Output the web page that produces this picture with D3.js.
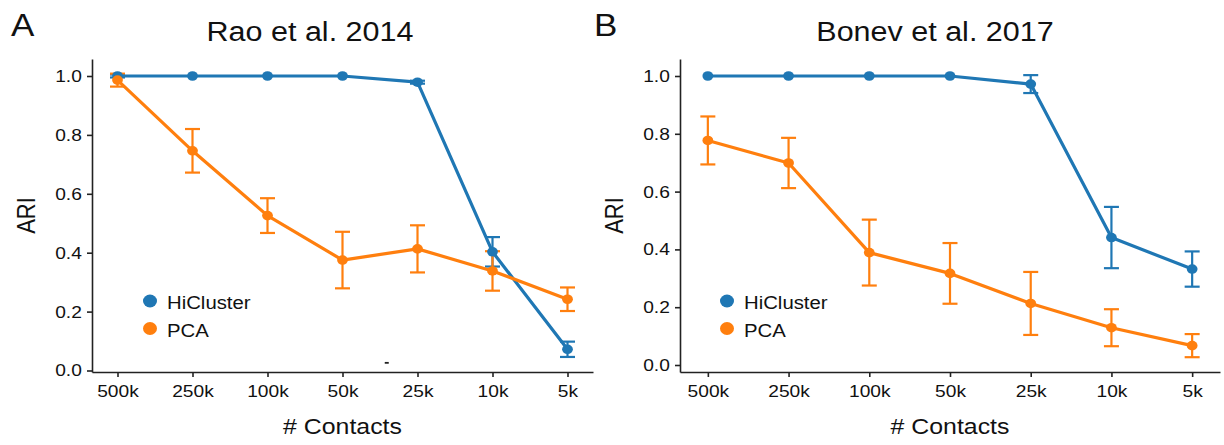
<!DOCTYPE html>
<html lang="en">
<head>
<meta charset="UTF-8">
<title>ARI vs number of contacts</title>
<style>
  body { margin: 0; background: #fff; }
  svg text { font-family: "Liberation Sans", Arial, Helvetica, sans-serif; fill: #111; }
  .axis path, .axis line { stroke: #222; stroke-width: 1.6; }
</style>
</head>
<body>
<svg id="chart" width="1224" height="445"></svg>

<script src="https://d3js.org/d3.v7.min.js"></script>
<script>
    // categories and tick labels
    const contacts = ['500k', '250k', '100k', '50k', '25k', '10k', '5k']
    const yTicks = [0, 0.2, 0.4, 0.6, 0.8, 1.0]
    const seriesNames = ['HiCluster', 'PCA']

    // Rao et al. 2014 (mean ARI and half-width of error bar)
    const raoHiCluster = [1.0, 1.0, 1.0, 1.0, 0.979, 0.403, 0.072]
    const raoHiClusterErr = [0.005, 0, 0, 0, 0.005, 0.05, 0.026]
    const raoPCA = [0.986, 0.746, 0.526, 0.375, 0.413, 0.338, 0.242]
    const raoPCAErr = [0.022, 0.074, 0.059, 0.096, 0.08, 0.067, 0.04]

    // Bonev et al. 2017
    const bonevHiCluster = [1.0, 1.0, 1.0, 1.0, 0.972, 0.441, 0.332]
    const bonevHiClusterErr = [0, 0, 0, 0, 0.031, 0.106, 0.061]
    const bonevPCA = [0.777, 0.699, 0.389, 0.317, 0.213, 0.129, 0.067]
    const bonevPCAErr = [0.083, 0.087, 0.114, 0.105, 0.109, 0.064, 0.04]

    const colors = { HiCluster: '#1f77b4', PCA: '#ff7f0e' }
    const stretch = 'scale(1.13,1)'   // the original figure is a bit wide

    const panels = [
        {
            letter: 'A', letterX: 11, title: 'Rao et al. 2014', titleX: 310,
            series: { HiCluster: [raoHiCluster, raoHiClusterErr], PCA: [raoPCA, raoPCAErr] },
            left: 92, right: 593, pad: 0.34, y0: 370.5, y1: 76,
            legendX: 150
        },
        {
            letter: 'B', letterX: 594, title: 'Bonev et al. 2017', titleX: 935,
            series: { HiCluster: [bonevHiCluster, bonevHiClusterErr], PCA: [bonevPCA, bonevPCAErr] },
            left: 680, right: 1220, pad: 0.345, y0: 365, y1: 76,
            legendX: 727
        }
    ]
    const plotTop = 59, plotBottom = 372

    const svg = d3.select('#chart')

    panels.forEach(function (p, pi) {
        const g = svg.append('g')

        const xScale = d3.scalePoint()
            .domain(contacts)
            .range([p.left, p.right])
            .padding(p.pad)

        // 0..1 positions, extended to the panel edges
        const base = d3.scaleLinear().domain([0, 1]).range([p.y0, p.y1])
        const yScale = d3.scaleLinear()
            .domain([base.invert(plotBottom), base.invert(plotTop)])
            .range([plotBottom, plotTop])

        // axes
        g.append('g')
            .attr('class', 'axis')
            .attr('transform', 'translate(0,' + plotBottom + ')')
            .call(d3.axisBottom(xScale).tickSize(5).tickSizeOuter(0))
            .call(a => a.selectAll('text')
                .attr('y', 25).attr('dy', null)
                .attr('transform', stretch)
                .style('font-size', '17px'))
        g.append('g')
            .attr('class', 'axis')
            .attr('transform', 'translate(' + p.left + ',0)')
            .call(d3.axisLeft(yScale).tickValues(yTicks).tickFormat(d3.format('.1f')).tickSize(5).tickSizeOuter(0))
            .call(a => a.selectAll('text')
                .attr('x', -9)
                .attr('transform', stretch)
                .style('font-size', '17px'))
        g.selectAll('.axis .domain').attr('stroke', '#222')

        // labels
        g.append('text')
            .attr('transform', 'translate(' + p.letterX + ',36) ' + stretch)
            .style('font-size', '31px')
            .text(p.letter)
        g.append('text')
            .attr('transform', 'translate(' + p.titleX + ',41) ' + stretch)
            .attr('text-anchor', 'middle')
            .style('font-size', '27px')
            .text(p.title)
        g.append('text')
            .attr('transform', 'translate(' + ((p.left + p.right) / 2) + ',434) ' + stretch)
            .attr('text-anchor', 'middle')
            .style('font-size', '22px')
            .text('# Contacts')
        g.append('text')
            .attr('transform', 'translate(' + (p.left - 57) + ',' + ((plotTop + plotBottom) / 2) + ') ' + stretch + ' rotate(-90)')
            .attr('text-anchor', 'middle')
            .style('font-size', '22px')
            .text('ARI')

        const line = d3.line()
            .x((d, i) => xScale(contacts[i]))
            .y(d => yScale(d))

        // error bars
        seriesNames.forEach(function (name) {
            const vals = p.series[name][0], errs = p.series[name][1]
            const bars = g.append('g')
                .attr('stroke', colors[name])
                .attr('stroke-width', 2.2)
            contacts.forEach(function (c, i) {
                if (!errs[i]) return
                const x = xScale(c)
                const lo = yScale(vals[i] - errs[i]), hi = yScale(vals[i] + errs[i])
                bars.append('line').attr('x1', x).attr('x2', x).attr('y1', lo).attr('y2', hi)
                bars.append('line').attr('x1', x - 7.5).attr('x2', x + 7.5).attr('y1', lo).attr('y2', lo)
                bars.append('line').attr('x1', x - 7.5).attr('x2', x + 7.5).attr('y1', hi).attr('y2', hi)
            })
        })

        // lines
        seriesNames.forEach(function (name) {
            g.append('path')
                .datum(p.series[name][0])
                .attr('fill', 'none')
                .attr('stroke', colors[name])
                .attr('stroke-width', 3.2)
                .attr('stroke-linejoin', 'round')
                .attr('d', line)
        })

        // points
        seriesNames.forEach(function (name) {
            g.selectAll('.pt-' + name)
                .data(p.series[name][0])
                .enter()
                .append('ellipse')
                .attr('cx', (d, i) => xScale(contacts[i]))
                .attr('cy', d => yScale(d))
                .attr('rx', 5.4)
                .attr('ry', 4.8)
                .attr('fill', colors[name])
        })

        // legend
        seriesNames.forEach(function (name, i) {
            const ly = 301 + i * 27.5
            g.append('ellipse')
                .attr('cx', p.legendX).attr('cy', ly)
                .attr('rx', 7).attr('ry', 6.4)
                .attr('fill', colors[name])
            g.append('text')
                .attr('transform', 'translate(' + (p.legendX + 17) + ',' + (ly + 8) + ') ' + stretch)
                .style('font-size', '18px')
                .text(name)
        })

        // small stray dash that sits inside panel A of the original
        if (pi === 0) {
            const sx = xScale('25k') - 0.41 * xScale.step(), sy = yScale(0.026)
            g.append('line')
                .attr('x1', sx - 2).attr('x2', sx + 2)
                .attr('y1', sy).attr('y2', sy)
                .attr('stroke', '#222').attr('stroke-width', 1.8)
        }
    })
</script>
</body>
</html>
